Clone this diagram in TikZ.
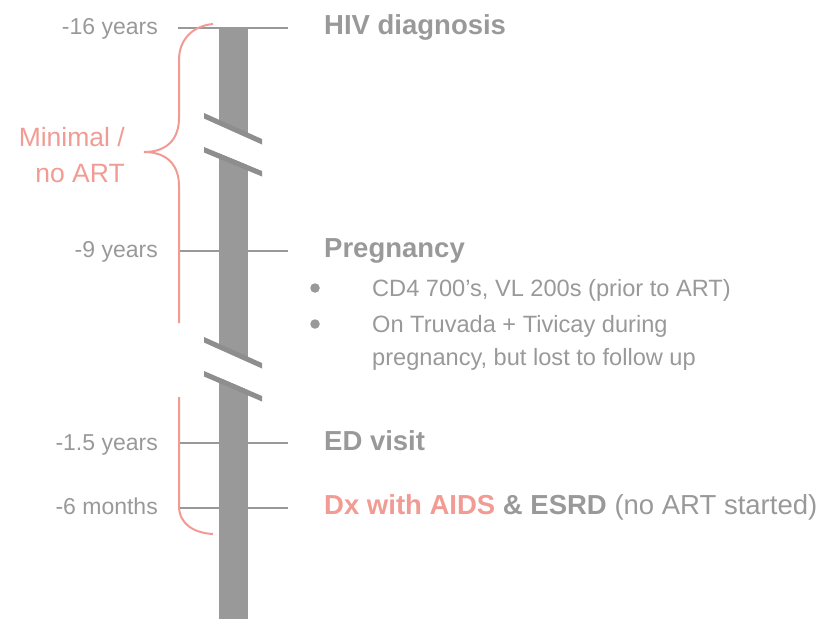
\documentclass[tikz,border=0pt]{standalone}
\usepackage{fontspec}
\setmainfont{Liberation Sans}
\definecolor{tlgray}{HTML}{999999}
\definecolor{slashgray}{HTML}{8E8E8E}
\definecolor{salmon}{HTML}{F29B94}
\begin{document}
\begin{tikzpicture}[x=1pt,y=-1pt,
  lbl/.style={anchor=base east,inner sep=0,text=tlgray,font={\fontsize{23}{28}\selectfont}},
  head/.style={anchor=base west,inner sep=0,text=tlgray,font={\fontsize{27.5}{33}\selectfont\bfseries}},
  body/.style={anchor=base west,inner sep=0,text=tlgray,font={\fontsize{23.6}{28}\selectfont}},
  side/.style={anchor=base east,inner sep=0,text=salmon,font={\fontsize{26.5}{31}\selectfont}},
  tick/.style={draw=tlgray,line width=1.6pt},
  brace/.style={draw=salmon,line width=2pt},
  slashmark/.style={fill=slashgray},
  dot/.style={circle,fill=tlgray,inner sep=0,minimum size=9.5pt}]
\useasboundingbox (0,0) rectangle (825,619);

% tick lines
\coordinate (t1l) at (178,28);  \coordinate (t1r) at (288,28);
\coordinate (t2l) at (178,251); \coordinate (t2r) at (288,251);
\coordinate (t3l) at (178,443); \coordinate (t3r) at (288,443);
\coordinate (t4l) at (178,508); \coordinate (t4r) at (288,508);
\draw[tick] (t1l) -- (t1r);
\draw[tick] (t2l) -- (t2r);
\draw[tick] (t3l) -- (t3r);
\draw[tick] (t4l) -- (t4r);

% timeline bar
\fill[tlgray] (219,28) rectangle (248,619);

% upper break
\fill[white] (204,118) -- (262,144) -- (262,171) -- (204,147) -- cycle;
\fill[slashmark] (204,113) -- (262,139) -- (262,144.5) -- (204,118.5) -- cycle;
\fill[slashmark] (204,147) -- (262,171) -- (262,176.5) -- (204,152.5) -- cycle;

% lower break
\fill[white] (204,342) -- (262,368) -- (262,396) -- (204,371) -- cycle;
\fill[slashmark] (204,337) -- (262,363) -- (262,368.5) -- (204,342.5) -- cycle;
\fill[slashmark] (204,371) -- (262,396) -- (262,401.5) -- (204,376.5) -- cycle;

% braces
\draw[brace] (213,24) .. controls (192,26) and (179,40) .. (179,60) -- (179,118)
  .. controls (179,140) and (166,152) .. (144,152)
  .. controls (166,152) and (179,164) .. (179,186) -- (179,323);
\draw[brace] (179,397) -- (179,506) .. controls (179,524) and (194,533) .. (213,534);

\node[side] (min1) at (125,146) {Minimal /};
\node[side] (min2) at (125,182) {no ART};

% left labels
\node[lbl] (l1) at (158,34.5) {-16 years};
\node[lbl] (l2) at (158,257) {-9 years};
\node[lbl] (l3) at (158,450) {-1.5 years};
\node[lbl] (l4) at (158,514) {-6 months};

% right events
\node[head] (e1) at (324,34.5) {HIV diagnosis};
\node[head] (e2) at (324,257) {Pregnancy};
\node[head] (e3) at (324,450) {ED visit};
\node[head] (e4) at (324,514) {{\color{salmon}Dx with AIDS} \& ESRD {\mdseries (no ART started)}};

% bullets
\node[dot] (d1) at (315,288) {};
\node[dot] (d2) at (315,324) {};
\node[body] (b1) at (372,296) {CD4 700’s, VL 200s (prior to ART)};
\node[body] (b2) at (372,332) {On Truvada + Tivicay during};
\node[body] (b3) at (372,365) {pregnancy, but lost to follow up};
\end{tikzpicture}
\end{document}
